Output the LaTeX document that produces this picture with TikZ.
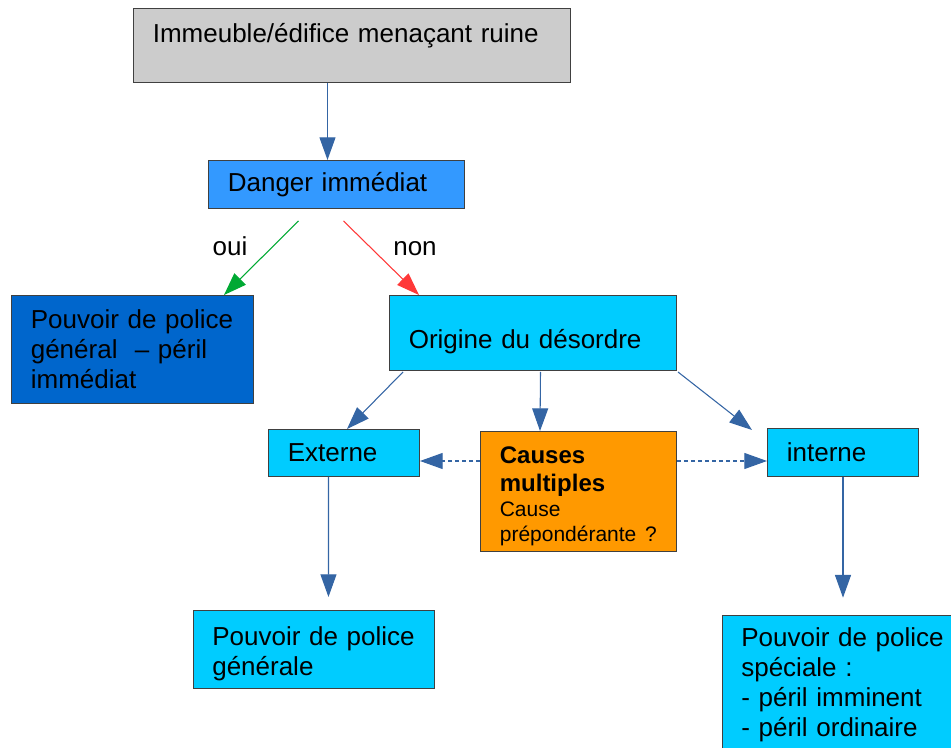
\documentclass[tikz,border=0pt]{standalone}
\usepackage{fontspec}
\setmainfont{Liberation Sans}
\usepackage{xcolor}
\usepackage{tikz}
\usetikzlibrary{arrows.meta,positioning,calc}

\definecolor{greybox}{HTML}{CCCCCC}
\definecolor{skyblue}{HTML}{3399FF}
\definecolor{deepblue}{HTML}{0066CC}
\definecolor{cyanbox}{HTML}{00CCFF}
\definecolor{orangebox}{HTML}{FF9900}
\definecolor{arrowblue}{HTML}{3465A4}
\definecolor{ouigreen}{HTML}{00A933}
\definecolor{nonred}{HTML}{FF3838}

\begin{document}
\begin{tikzpicture}[
  x=0.75pt, y=-0.75pt,
  box/.style={draw=black!75, line width=0.75pt, anchor=north west, align=left,
              inner xsep=14.5pt, inner ysep=0pt,
              execute at begin node={\hyphenpenalty=10000},
              font=\fontsize{19.5}{22.5}\selectfont},
  lbl/.style={anchor=base, font=\fontsize{19.5}{22.5}\selectfont},
  arr/.style={-{Triangle[length=17pt, width=12pt]}, line width=0.8pt, arrowblue}]

  \useasboundingbox (0,0) rectangle (951,748);
  \clip (0,0) rectangle (951,748);

  \node[box, fill=greybox, text width=298.75pt, text height=25.5pt, text depth=30pt]
       (ruine) at (133,8) {Immeuble/édifice menaçant ruine};
  \node[box, fill=skyblue, text width=163pt, minimum height=36pt]
       (danger) at (208,160) {Danger immédiat};
  \node[box, fill=deepblue, text width=152.5pt, minimum height=81pt]
       (polimm) at (11,295) {Pouvoir de police\\général\ \ – péril\\immédiat};
  \node[box, fill=cyanbox, text width=186.25pt, text height=39.75pt, text depth=16.5pt]
       (origine) at (389,295) {Origine du désordre};
  \node[box, fill=cyanbox, text width=84.25pt, minimum height=35.25pt]
       (externe) at (268,429) {Externe};
  \node[box, fill=orangebox, text width=118pt, text height=23.7pt, text depth=66.3pt]
       (causes) at (480,431)
       {\fontsize{18}{18.75}\selectfont\bfseries Causes\\[2.25pt]multiples\\
        \fontsize{15.75}{18.75}\selectfont\mdseries Cause\\prépondérante ?\par};
  \node[box, fill=cyanbox, text width=84.25pt, minimum height=36pt]
       (interne) at (767,428) {interne};
  \node[box, fill=cyanbox, text width=152.5pt, inner xsep=14.1pt,
        text height=26.25pt, text depth=32.25pt]
       (polgen) at (193,610) {Pouvoir de police\\générale};
  \node[box, fill=cyanbox, text width=152.5pt, minimum height=104.25pt,
        below=103.5pt of interne]
       (polspe) {Pouvoir de police\\spéciale :\\- péril imminent\\- péril ordinaire};

  \node[lbl] (oui) at (230,256) {oui};
  \node[lbl] (non) at (415,256) {non};

  % liaisons
  \draw[arr] ($(ruine.south)+(-24.5,0)$) -- ($(danger.north)+(-9,0)$);
  \draw[arr, ouigreen] ($(danger.south)+(-38,12)$) -- ($(polimm.north east)+(-30,0)$);
  \draw[arr, nonred] ($(danger.south)+(7,12)$) -- ($(origine.north west)+(30,0)$);
  \draw[arr] ($(origine.south west)+(14,1)$) -- ($(externe.north)+(3,0)$);
  \draw[arr] ($(origine.south)+(7.5,1)$) -- ($(causes.north west)+(60,0)$);
  \draw[arr] ($(origine.south east)+(1,1)$) -- ($(interne.north west)+(-15,2)$);
  \draw[arr, dash pattern=on 3pt off 2.25pt] ($(causes.north west)+(0,30)$) -- ($(externe.north east)+(0,32)$);
  \draw[arr, dash pattern=on 3pt off 2.25pt] ($(causes.north east)+(0,30)$) -- ($(interne.north west)+(0,33)$);
  \draw[arr] ($(externe.south)+(-15.5,0)$) -- ($(polgen.north)+(14.5,-13)$);
  \draw[arr, shorten >=13pt] (interne) -- (polspe);
\end{tikzpicture}
\end{document}
